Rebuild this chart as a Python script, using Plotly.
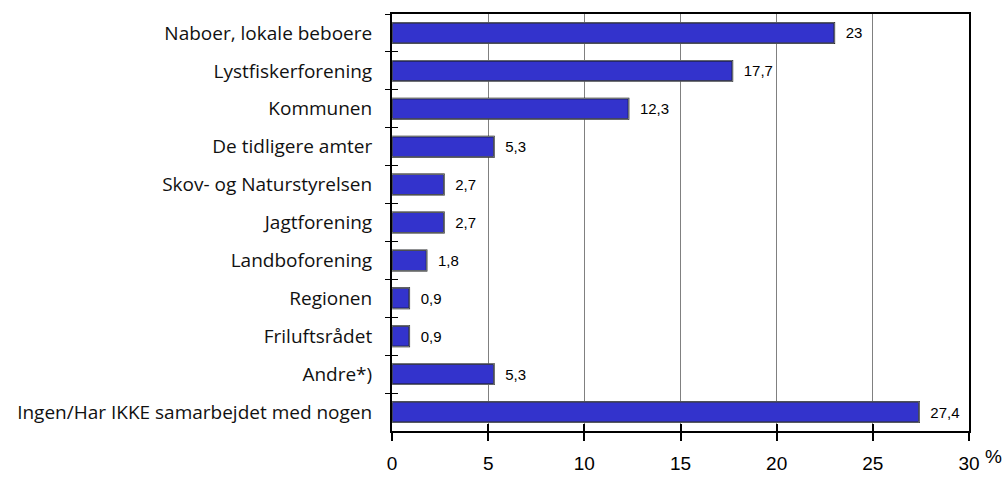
import plotly.graph_objects as go

categories = ["Naboer, lokale beboere", "Lystfiskerforening", "Kommunen",
              "De tidligere amter", "Skov- og Naturstyrelsen", "Jagtforening",
              "Landboforening", "Regionen", "Friluftsrådet", "Andre*)",
              "Ingen/Har IKKE samarbejdet med nogen"]
values = [23, 17.7, 12.3, 5.3, 2.7, 2.7, 1.8, 0.9, 0.9, 5.3, 27.4]
x_ticks = [0, 5, 10, 15, 20, 25, 30]

LABEL_FONT = "Open Sans, Liberation Sans, Arial"
TICK_FONT = "Liberation Sans, Arial"

fig = go.Figure()
fig.add_trace(go.Bar(
    y=categories, x=values, orientation="h", width=0.54,
    marker=dict(color="#3333CC", line=dict(color="black", width=1.5)),
    text=values, texttemplate="  %{x}", textposition="outside",
    textfont=dict(family=TICK_FONT, size=15, color="black"),
    cliponaxis=False, hoverinfo="skip",
))
# invisible copy on overlay axes, used only to draw the inner half of the crossing tick marks
fig.add_trace(go.Bar(
    y=categories, x=values, orientation="h", width=0.54, xaxis="x2", yaxis="y2",
    marker=dict(color="rgba(0,0,0,0)"), hoverinfo="skip", showlegend=False,
))

fig.update_layout(
    width=1003, height=486,
    margin=dict(l=392, r=34, t=13, b=39),
    plot_bgcolor="white", paper_bgcolor="white",
    separators=",.",
    showlegend=False,
    barmode="overlay",
    font=dict(family=TICK_FONT, size=16, color="black"),
    xaxis=dict(range=[0, 30], tickvals=x_ticks, showgrid=True, gridcolor="#808080",
               gridwidth=1, showline=True, linecolor="black", linewidth=2,
               mirror=True, ticks="outside", ticklen=8, tickwidth=2, tickcolor="black",
               zeroline=False, tickfont=dict(family=TICK_FONT, size=19, color="black"),
               ticklabelstandoff=6),
    yaxis=dict(autorange="reversed", showline=True, linecolor="black", linewidth=2,
               mirror=True, ticks="outside", tickson="boundaries", ticklen=5,
               tickcolor="black", tickwidth=1, showgrid=False,
               tickfont=dict(family=LABEL_FONT, size=19, color="#111111"),
               ticklabelstandoff=14),
    xaxis2=dict(range=[0, 30], tickvals=x_ticks, overlaying="x", ticks="inside",
                ticklen=7, tickwidth=2, tickcolor="black", showticklabels=False,
                showgrid=False, zeroline=False, showline=False),
    yaxis2=dict(autorange="reversed", overlaying="y", ticks="inside",
                tickson="boundaries", ticklen=6, tickwidth=1, tickcolor="black",
                showticklabels=False, showgrid=False, zeroline=False, showline=False),
    annotations=[dict(text="%", x=1, xref="paper", y=0, yref="paper",
                      xanchor="left", yanchor="middle", yshift=-25, xshift=14,
                      showarrow=False, font=dict(family=TICK_FONT, size=19, color="black"))],
)

fig.write_html("out.html",
               config={"displayModeBar": False},
               post_script="document.body.style.margin='0px';"
                           "document.body.style.overflow='hidden';")
